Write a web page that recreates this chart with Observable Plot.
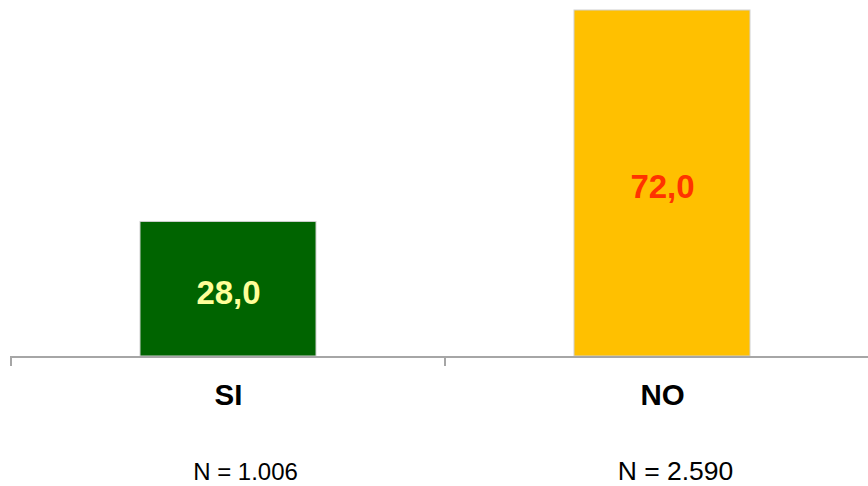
<!DOCTYPE html>
<html>
<head>
<meta charset="utf-8">
<script src="https://cdn.jsdelivr.net/npm/d3@7"></script>
<script src="https://cdn.jsdelivr.net/npm/@observablehq/plot@0.6"></script>
<style>
  html, body { margin: 0; padding: 0; background: #fff; }
  svg { display: block; }
</style>
</head>
<body>
<div id="chart"></div>
<script>
const categories = ["SI", "NO"];
const values = [28.0, 72.0];
const nLabels = ["N = 1.006", "N = 2.590"];
const barColors = ["#006400", "#FFC000"];
const valueColors = ["#FFFF99", "#FF3300"];

const data = categories.map((c, i) => ({
  cat: c, value: values[i], n: nLabels[i], fill: barColors[i], tcolor: valueColors[i]
}));

const fmt = v => v.toFixed(1).replace(".", ",");

const boundaryTicks = (index, scales, values, dimensions) => {
  const g = d3.create("svg:g");
  const y0 = scales.y(0);
  g.append("line")
    .attr("x1", scales.x(categories[0])).attr("x2", dimensions.width + 10)
    .attr("y1", y0 + 1).attr("y2", y0 + 1)
    .attr("stroke", "#a6a6a6").attr("stroke-width", 2);
  for (const c of categories) {
    const x = scales.x(c);
    g.append("line")
      .attr("x1", x).attr("x2", x)
      .attr("y1", y0).attr("y2", y0 + 10)
      .attr("stroke", "#a6a6a6").attr("stroke-width", 2);
  }
  return g.node();
};

const chart = Plot.plot({
  width: 868,
  height: 486,
  marginTop: 10,
  marginBottom: 130,
  marginLeft: 11,
  marginRight: 0,
  style: { fontFamily: "Liberation Sans, Arial, sans-serif", background: "#fff", overflow: "visible" },
  x: { domain: categories, range: [11, 879], padding: 0, axis: null },
  y: { domain: [0, 72], range: [356, 10], axis: null },
  marks: [
    Plot.barY(data, { x: "cat", y: "value", fill: "fill", insetLeft: 129, insetRight: 129, stroke: "#d0d0d0", strokeWidth: 1 }),
    boundaryTicks,
    Plot.text(data, { x: "cat", y: d => d.value / 2, text: d => fmt(d.value), fill: "tcolor", fontSize: 33, fontWeight: "bold", dy: 4 }),
    Plot.text(data, { x: "cat", y: 0, text: "cat", dy: 39, fontSize: 29.5, fontWeight: "bold", fill: "#000" }),
    Plot.text(data.slice(0, 1), { x: "cat", y: 0, text: "n", dy: 116, dx: 17, fontSize: 24, fill: "#000" }),
    Plot.text(data.slice(1), { x: "cat", y: 0, text: "n", dy: 115, dx: 13, fontSize: 26.5, fill: "#000" })
  ]
});
document.getElementById("chart").appendChild(chart);
</script>
</body>
</html>
